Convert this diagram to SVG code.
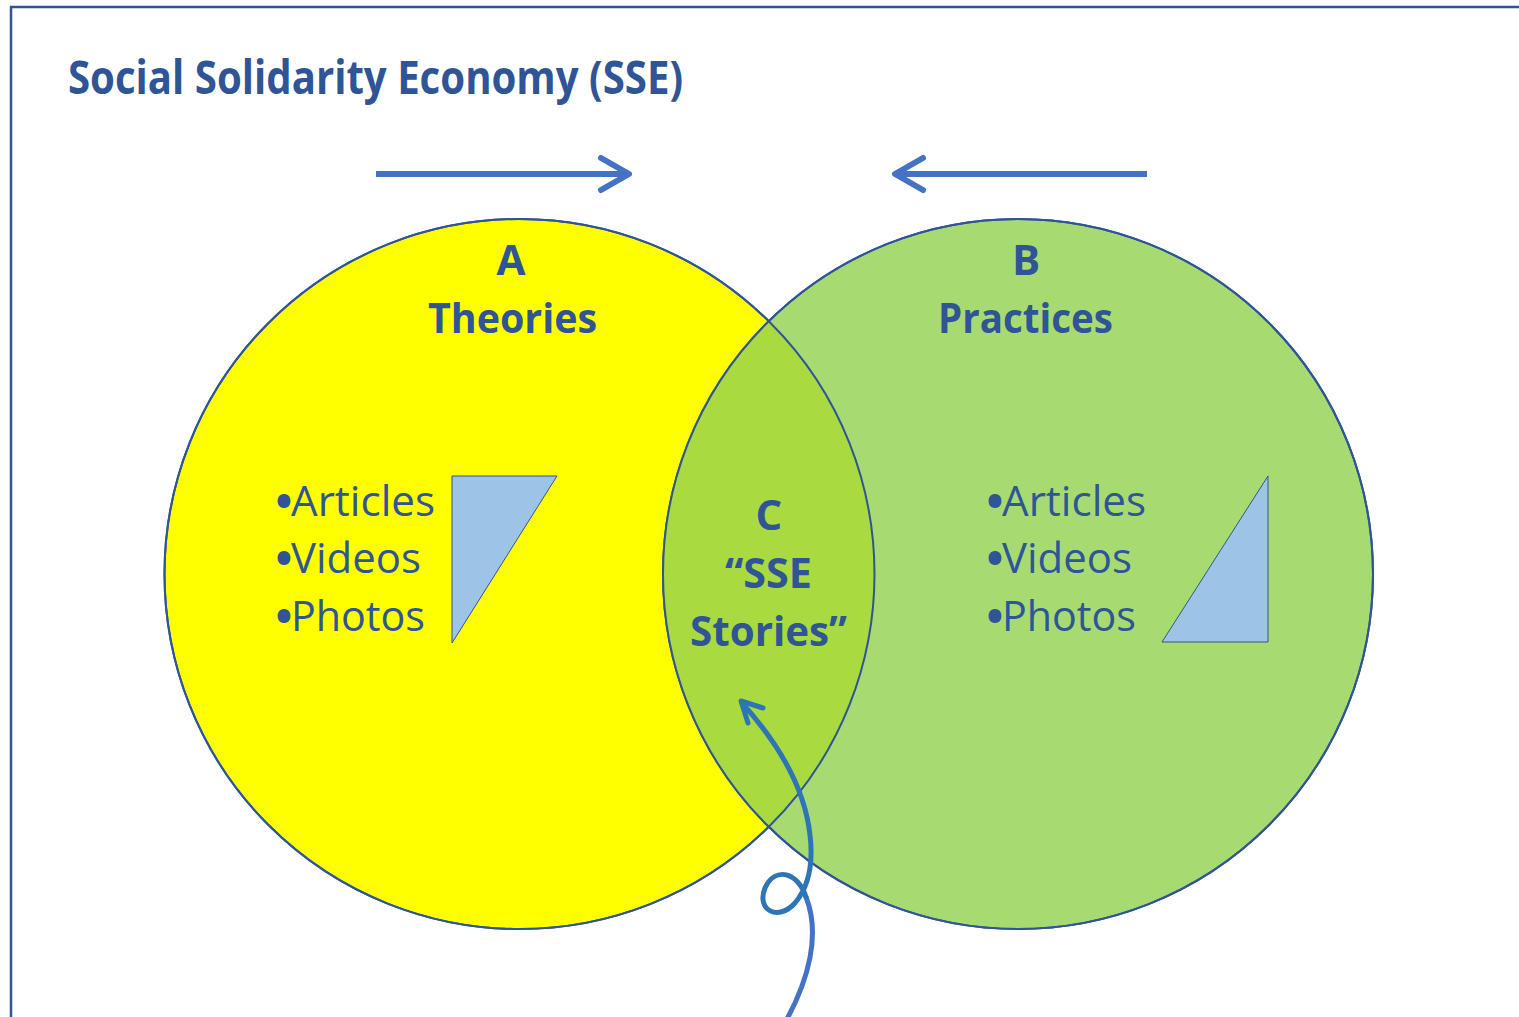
<svg xmlns="http://www.w3.org/2000/svg" width="1519" height="1017" viewBox="0 0 1519 1017">
  <defs>
    <style>
      .t { font-family: "Open Sans", "Liberation Sans", sans-serif; fill: #2F5597; }
      .b { font-weight: bold; }
      .dot { stroke: #2F5597; stroke-width: 4; stroke-linejoin: round; }
      .frame { fill: none; stroke: #2F5597; stroke-width: 2.5; }
      .circ { stroke: #2F5597; stroke-width: 2; }
      .tri { fill: #9DC3E6; stroke: #2F5597; stroke-width: 1; }
      .arrow { fill: none; stroke: #4472C4; stroke-width: 6; stroke-linejoin: round; }
      .head { stroke-linecap: round; }
    </style>
    <clipPath id="clipA">
      <circle cx="519.5" cy="574" r="355"/>
    </clipPath>
  </defs>
  <rect width="1519" height="1017" fill="#FFFFFF"/>
  <polyline class="frame" points="11,1020 11,7 1522,7"/>

  <text class="t b" x="68" y="94" font-size="46" textLength="615" lengthAdjust="spacingAndGlyphs">Social Solidarity Economy (SSE)</text>

  <g id="circleA">
    <circle class="circ" cx="519.5" cy="574" r="355" fill="#FFFF00"/>
  </g>
  <g id="circleB">
    <circle class="circ" cx="1018" cy="574" r="355" fill="#A8DA72"/>
  </g>
  <g id="lensC">
    <circle cx="1018" cy="574" r="355" fill="#A9DA3F" clip-path="url(#clipA)"/>
    <circle cx="519.5" cy="574" r="355" fill="none" stroke="#2F5597" stroke-width="2"/>
    <circle cx="1018" cy="574" r="355" fill="none" stroke="#2F5597" stroke-width="2"/>
  </g>

  <g id="labelA">
    <text class="t b" x="511" y="275" font-size="42" text-anchor="middle">A</text>
    <text class="t b" x="428" y="333" font-size="42" textLength="169" lengthAdjust="spacingAndGlyphs">Theories</text>
  </g>
  <g id="labelB">
    <text class="t b" x="1026" y="275" font-size="42" text-anchor="middle">B</text>
    <text class="t b" x="938" y="333" font-size="42" textLength="175" lengthAdjust="spacingAndGlyphs">Practices</text>
  </g>
  <g id="labelC">
    <text class="t b" x="769" y="530" font-size="42" text-anchor="middle">C</text>
    <text class="t b" x="725" y="588" font-size="42" textLength="87" lengthAdjust="spacingAndGlyphs">“SSE</text>
    <text class="t b" x="690" y="646" font-size="42" textLength="157" lengthAdjust="spacingAndGlyphs">Stories”</text>
  </g>

  <g id="listA">
    <text class="t" x="276" y="516" font-size="42"><tspan class="dot">•</tspan><tspan x="291" textLength="144" lengthAdjust="spacingAndGlyphs">Articles</tspan></text>
    <text class="t" x="276" y="573" font-size="42"><tspan class="dot">•</tspan><tspan x="291" textLength="130" lengthAdjust="spacingAndGlyphs">Videos</tspan></text>
    <text class="t" x="276" y="631" font-size="42"><tspan class="dot">•</tspan><tspan x="291" textLength="134" lengthAdjust="spacingAndGlyphs">Photos</tspan></text>
    <polygon class="tri" points="452,476 557,476 452,643"/>
  </g>
  <g id="listB">
    <text class="t" x="987" y="516" font-size="42"><tspan class="dot">•</tspan><tspan x="1002" textLength="144" lengthAdjust="spacingAndGlyphs">Articles</tspan></text>
    <text class="t" x="987" y="573" font-size="42"><tspan class="dot">•</tspan><tspan x="1002" textLength="130" lengthAdjust="spacingAndGlyphs">Videos</tspan></text>
    <text class="t" x="987" y="631" font-size="42"><tspan class="dot">•</tspan><tspan x="1002" textLength="134" lengthAdjust="spacingAndGlyphs">Photos</tspan></text>
    <polygon class="tri" points="1268,476 1268,642 1162,642"/>
  </g>

  <g id="connectors">
    <line class="arrow" x1="376" y1="174" x2="628" y2="174"/>
    <polyline class="arrow head" points="601,158 629,174 601,190"/>
    <line class="arrow" x1="1147" y1="174" x2="896" y2="174"/>
    <polyline class="arrow head" points="923,158 895,174 923,190"/>
    <path d="M 787 1019 C 808 980, 821 935, 806 897" fill="none" stroke="#4472C4" stroke-width="5" stroke-linecap="round"/>
    <path d="M 806 897 C 798 872, 775 866, 765 888 C 756 910, 778 922, 795 903 C 810 885, 813 860, 810 835 C 805 790, 780 745, 742 703" fill="none" stroke="#2E75B6" stroke-width="5" stroke-linecap="round"/>
    <polyline points="763,708 741,701 748,723" fill="none" stroke="#2E75B6" stroke-width="5" stroke-linecap="round" stroke-linejoin="round"/>
  </g>
</svg>
